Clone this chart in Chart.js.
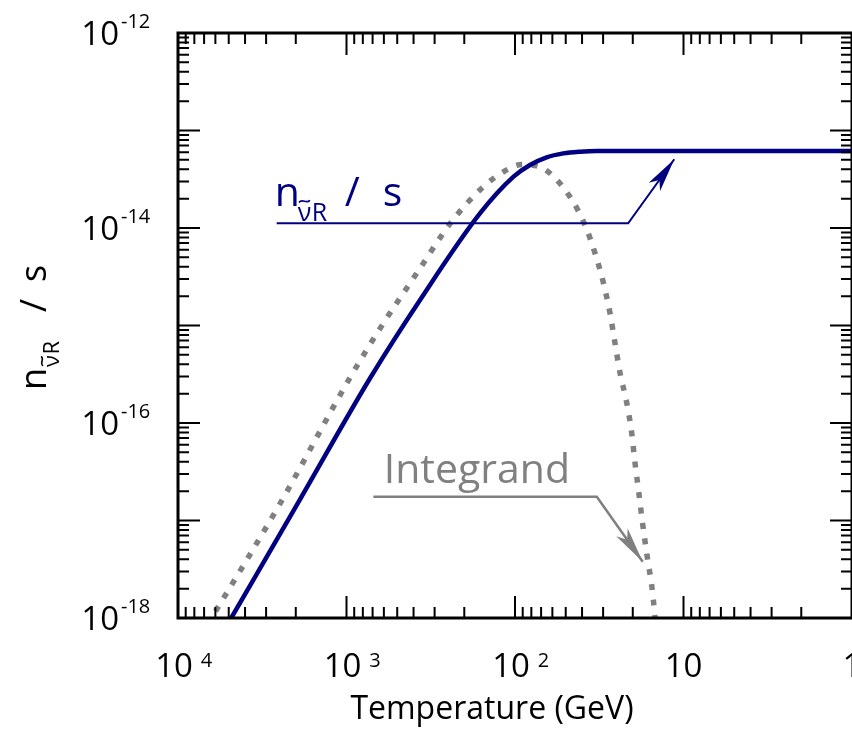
<!DOCTYPE html>
<html>
<head>
<meta charset="utf-8">
<script src="https://cdn.jsdelivr.net/npm/chart.js@4.4.1/dist/chart.umd.min.js"></script>
<style>
  html, body { margin: 0; padding: 0; overflow: hidden; background: #fff; }
  #wrap { width: 900px; height: 736px; }
</style>
</head>
<body>
<div id="wrap"><canvas id="chart" width="900" height="736"></canvas></div>
<script>
// n / s curve (temperature in GeV, decreasing)
const nsTemp = [5640, 4830, 1890, 725, 366, 161, 102, 81.5, 64.9, 51.7, 41.1, 32.7, 10, 1, 0.8];
const nsRatio = [6.3e-19, 1.0e-18, 1.64e-17, 2.88e-16, 1.83e-15, 1.42e-14, 3.36e-14, 4.43e-14,
                 5.31e-14, 5.83e-14, 6.07e-14, 6.17e-14, 6.17e-14, 6.17e-14, 6.17e-14];

// integrand curve (dotted)
const intTemp = [7500, 6340, 2480, 953, 605, 383, 238, 154, 112, 91.2, 74.3, 62.0, 47.2, 38.4,
                 33.5, 29.9, 27.3, 25.5, 23.8, 21.7, 20.3, 19.4, 18.4, 17.5, 16.4, 15.4, 14.8, 14.4];
const intValue = [6.3e-19, 1.0e-18, 1.49e-17, 2.92e-16, 1.05e-15, 3.43e-15, 1.16e-14, 2.65e-14,
                  3.94e-14, 4.48e-14, 4.33e-14, 3.64e-14, 2.09e-14, 1.07e-14, 5.51e-15, 2.75e-15,
                  1.34e-15, 6.6e-16, 3.26e-16, 1.60e-16, 7.9e-17, 3.9e-17, 1.91e-17, 9.4e-18,
                  4.2e-18, 2.08e-18, 1.07e-18, 5.9e-19];

// tick labels
const xTickValues = [1e4, 1e3, 1e2, 10, 1];
const xTickBase = ['10', '10', '10', '10', '1'];
const xTickExp = ['4', '3', '2', '', ''];
const yTickValues = [1e-12, 1e-14, 1e-16, 1e-18];
const yTickExp = ['-12', '-14', '-16', '-18'];

const FONT = '"Open Sans", "Noto Sans", sans-serif';
const NAVY = '#000080';
const GREY = '#808080';

function arrow(ctx, x0, y0, x1, y1, len, half) {
  const a = Math.atan2(y1 - y0, x1 - x0);
  const c = Math.cos(a), s = Math.sin(a);
  const bx = x1 - c * len, by = y1 - s * len;
  const nx = x1 - c * len * 0.75, ny = y1 - s * len * 0.75;
  ctx.beginPath();
  ctx.moveTo(x1, y1);
  ctx.lineTo(bx - s * half, by + c * half);
  ctx.lineTo(nx, ny);
  ctx.lineTo(bx + s * half, by - c * half);
  ctx.closePath();
  ctx.fill();
}

// small wavy tilde drawn as a path
function tilde(ctx, x0, y, w, a) {
  ctx.beginPath();
  ctx.moveTo(x0, y + a * 0.5);
  ctx.bezierCurveTo(x0 + w * 0.3, y - a * 1.6, x0 + w * 0.7, y + a * 1.6, x0 + w, y - a * 0.5);
  ctx.stroke();
}

// n with subscript nu-tilde R, then " / s"
function nuLabel(ctx, x, y, big, small, gaps) {
  ctx.textAlign = 'left';
  ctx.textBaseline = 'alphabetic';
  ctx.font = big + 'px ' + FONT;
  ctx.fillText('n', x + gaps[0], y);
  ctx.font = small + 'px ' + FONT;
  const sx = x + gaps[1], sy = y + small * 0.6;
  ctx.fillText('\u03bd', sx, sy);
  const w = ctx.measureText('\u03bd').width;
  ctx.lineWidth = Math.max(1.4, small * 0.07);
  tilde(ctx, sx + w * 0.1, sy - small * 0.78, w * 0.8, small * 0.09);
  ctx.fillText('R', sx + w + 0.5, sy);
  ctx.font = big + 'px ' + FONT;
  ctx.fillText('/', x + gaps[2], y);
  ctx.fillText('s', x + gaps[3], y);
}

const framePlugin = {
  id: 'frame',
  afterDatasetsDraw(chart) {
    const ctx = chart.ctx;
    const xs = chart.scales.x, ys = chart.scales.y;
    const { left, right, top, bottom } = chart.chartArea;
    ctx.save();

    // annotations (anchored in data space)
    ctx.strokeStyle = NAVY; ctx.fillStyle = NAVY; ctx.lineWidth = 2;
    let ax = xs.getPixelForValue(2596), bx = xs.getPixelForValue(21.3);
    let ay = ys.getPixelForValue(1.117e-14);
    let tx = xs.getPixelForValue(11.34), ty = ys.getPixelForValue(5.07e-14);
    ctx.beginPath(); ctx.moveTo(ax, ay); ctx.lineTo(bx, ay); ctx.lineTo(tx, ty); ctx.stroke();
    arrow(ctx, bx, ay, tx, ty, 34, 7);
    nuLabel(ctx, ax, ys.getPixelForValue(1.69e-14), 41, 25, [-2, 21, 68, 106]);

    ctx.strokeStyle = GREY; ctx.fillStyle = GREY; ctx.lineWidth = 2.5;
    ax = xs.getPixelForValue(693); bx = xs.getPixelForValue(32.7);
    ay = ys.getPixelForValue(1.75e-17);
    tx = xs.getPixelForValue(17.46); ty = ys.getPixelForValue(3.78e-18);
    ctx.beginPath(); ctx.moveTo(ax, ay); ctx.lineTo(bx, ay); ctx.lineTo(tx, ty); ctx.stroke();
    arrow(ctx, bx, ay, tx, ty, 36, 7);
    ctx.font = '41px ' + FONT;
    ctx.textAlign = 'left';
    ctx.fillText('Integrand', xs.getPixelForValue(577) - 3, ys.getPixelForValue(2.41e-17));

    // frame
    ctx.strokeStyle = '#000'; ctx.fillStyle = '#000';
    ctx.lineWidth = 3;
    ctx.strokeRect(left, top, right - left, bottom - top);

    // inward ticks on all four sides
    ctx.lineWidth = 2;
    ctx.beginPath();
    for (let k = 0; k <= 4; k++) {
      for (let m = 1; m <= 9; m++) {
        const v = m * Math.pow(10, k);
        if (v > 1e4) break;
        const p = xs.getPixelForValue(v);
        const len = m === 1 ? 22 : 11;
        ctx.moveTo(p, top); ctx.lineTo(p, top + len);
        ctx.moveTo(p, bottom); ctx.lineTo(p, bottom - len);
      }
    }
    for (let k = -18; k <= -12; k++) {
      for (let m = 1; m <= 9; m++) {
        const v = m * Math.pow(10, k);
        if (v > 1.0001e-12) break;
        const p = ys.getPixelForValue(v);
        const len = m === 1 ? 22 : 11;
        ctx.moveTo(left, p); ctx.lineTo(left + len, p);
        ctx.moveTo(right, p); ctx.lineTo(right - len, p);
      }
    }
    ctx.stroke();

    // y tick labels
    yTickValues.forEach((v, i) => {
      const p = ys.getPixelForValue(v);
      ctx.textAlign = 'right';
      ctx.font = '33px ' + FONT;
      ctx.fillText('10', left - 59, p + 12);
      ctx.textAlign = 'left';
      ctx.font = '20px ' + FONT;
      ctx.fillText(yTickExp[i], left - 57, p - 5);
    });

    // x tick labels
    xTickValues.forEach((v, i) => {
      const p = xs.getPixelForValue(v);
      ctx.font = '33px ' + FONT;
      ctx.textAlign = 'center';
      const c = xTickExp[i] ? p - 4 : p;
      ctx.fillText(xTickBase[i], c, bottom + 59);
      if (xTickExp[i]) {
        const w = ctx.measureText(xTickBase[i]).width;
        ctx.textAlign = 'left';
        ctx.font = '20px ' + FONT;
        ctx.fillText(xTickExp[i], c + w / 2 + 8, bottom + 49);
      }
    });

    // axis titles
    ctx.font = '32px ' + FONT;
    ctx.textAlign = 'center';
    ctx.fillText('Temperature (GeV)', 492, 719);

    ctx.save();
    ctx.translate(46, 388);
    ctx.rotate(-Math.PI / 2);
    nuLabel(ctx, 0, 0, 36, 22, [-2, 21, 76, 106]);
    ctx.restore();

    ctx.restore();
  }
};

new Chart(document.getElementById('chart'), {
  type: 'line',
  data: {
    datasets: [
      {
        label: 'n/s',
        data: nsTemp.map((t, i) => ({ x: t, y: nsRatio[i] })),
        borderColor: NAVY,
        borderWidth: 4.5,
        pointRadius: 0,
        cubicInterpolationMode: 'monotone',
        fill: false,
        clip: 0
      },
      {
        label: 'Integrand',
        data: intTemp.map((t, i) => ({ x: t, y: intValue[i] })),
        borderColor: GREY,
        borderWidth: 5.5,
        borderDash: [6, 9.5],
        borderCapStyle: 'butt',
        pointRadius: 0,
        cubicInterpolationMode: 'monotone',
        fill: false,
        clip: 0
      }
    ]
  },
  options: {
    responsive: false,
    animation: false,
    devicePixelRatio: 1,
    layout: { padding: { left: 178, top: 33, right: 48, bottom: 118 } },
    plugins: { legend: { display: false }, tooltip: { enabled: false } },
    scales: {
      x: { type: 'logarithmic', reverse: true, min: 1, max: 1e4, display: false },
      y: { type: 'logarithmic', min: 1e-18, max: 1e-12, display: false }
    }
  },
  plugins: [framePlugin]
});
</script>
</body>
</html>
